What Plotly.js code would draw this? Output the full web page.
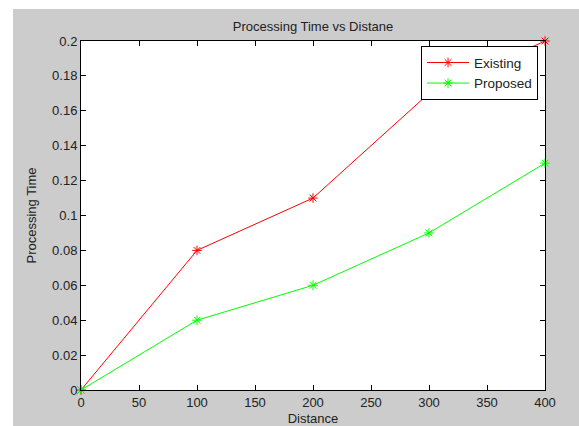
<!DOCTYPE html>
<html>
<head>
<script src="https://cdn.plot.ly/plotly-3.0.1.min.js"></script>
<style>
html,body{margin:0;padding:0;background:#ffffff;width:579px;height:426px;overflow:hidden;}
#chart{position:absolute;left:13px;top:9px;width:566px;height:417px;}
</style>
</head>
<body>
<div id="chart"></div>
<script>
var distance = [0, 100, 200, 300, 400];
var existing = [0, 0.08, 0.11, 0.17, 0.2];
var proposed = [0, 0.04, 0.06, 0.09, 0.13];
var xTicks = [0, 50, 100, 150, 200, 250, 300, 350, 400];
var yTicks = [0, 0.02, 0.04, 0.06, 0.08, 0.1, 0.12, 0.14, 0.16, 0.18, 0.2];

var traces = [
  {x: distance, y: existing, name: 'Existing', mode: 'lines+markers', cliponaxis: false,
   line: {color: '#ff0000', width: 1},
   marker: {symbol: 'asterisk-open', size: 8, color: '#ff0000', line: {color: '#ff0000', width: 1}}},
  {x: distance, y: proposed, name: 'Proposed', mode: 'lines+markers', cliponaxis: false,
   line: {color: '#00ff00', width: 1},
   marker: {symbol: 'asterisk-open', size: 8, color: '#00ff00', line: {color: '#00ff00', width: 1}}}
];

var fam = 'Arial, Liberation Sans, sans-serif';
var axisFont = {family: fam, size: 13, color: '#222222'};
var legendFont = {family: fam, size: 13.5, color: '#222222'};
var layout = {
  width: 566, height: 417,
  paper_bgcolor: '#cccccc', plot_bgcolor: '#ffffff',
  margin: {l: 68, r: 34, t: 32, b: 36},
  font: axisFont,
  title: {text: 'Processing Time vs Distane', font: axisFont, x: 0.5, xref: 'paper', xanchor: 'center', y: 0.958, yanchor: 'middle'},
  showlegend: true,
  legend: {x: 0.985, y: 0.985, xanchor: 'right', yanchor: 'top', bgcolor: '#ffffff', bordercolor: '#000000', borderwidth: 1,
           font: legendFont, tracegroupgap: 0, itemwidth: 42},
  xaxis: {range: [0, 400], tickvals: xTicks, ticktext: xTicks.map(String), ticks: 'inside', ticklen: 5, tickcolor: '#000000',
          showline: true, linecolor: '#000000', linewidth: 1, mirror: 'ticks', showgrid: false, zeroline: false,
          tickfont: axisFont, title: {text: 'Distance', font: axisFont, standoff: 5}},
  yaxis: {range: [0, 0.2], tickvals: yTicks, ticktext: yTicks.map(String), ticks: 'inside', ticklen: 5, tickcolor: '#000000',
          showline: true, linecolor: '#000000', linewidth: 1, mirror: 'ticks', showgrid: false, zeroline: false,
          tickfont: axisFont, title: {text: 'Processing Time', font: axisFont, standoff: 12}}
};
Plotly.newPlot('chart', traces, layout, {displayModeBar: false, staticPlot: true});
</script>
</body>
</html>
